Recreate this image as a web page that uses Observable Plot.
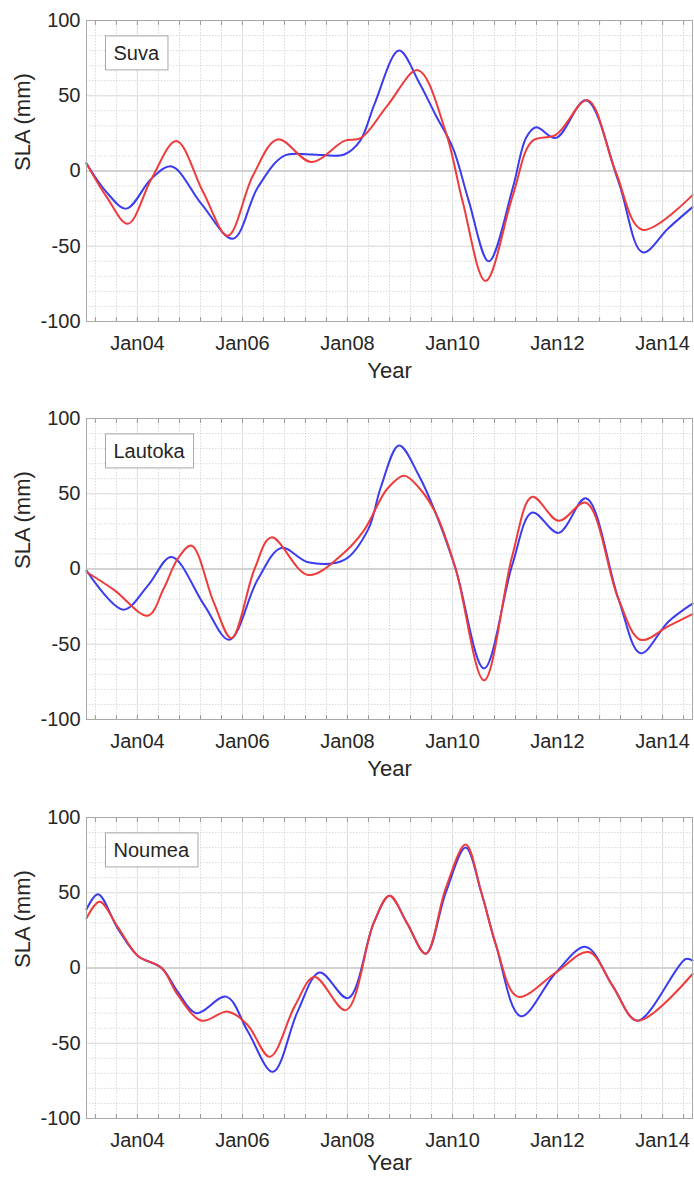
<!DOCTYPE html>
<html><head><meta charset="utf-8">
<script src="https://cdn.jsdelivr.net/npm/d3@7"></script>
<script src="https://cdn.jsdelivr.net/npm/@observablehq/plot@0.6"></script>
<style>
body{margin:0;background:#fff;}
#chart{width:694px;}
#chart svg{display:block;}
</style>
</head><body><div id="chart"></div>
<script>
// ---- data (decimal year, SLA mm) ----
const suvaBlue = [[2003.03,5],[2003.41,-14],[2003.79,-25],[2004.27,-5],[2004.65,3],[2005.22,-22],[2005.82,-45],[2006.29,-11],[2006.79,10],[2007.3,11],[2007.94,11],[2008.24,20],[2008.52,45],[2008.98,80],[2009.36,59],[2009.68,37],[2010.01,15],[2010.31,-20],[2010.69,-60],[2011.15,-11],[2011.4,22],[2011.59,29],[2011.97,22],[2012.54,47],[2013.16,-7],[2013.62,-54],[2014.11,-38],[2014.57,-24]];
const suvaRed = [[2003.03,5],[2003.41,-17],[2003.82,-35],[2004.27,-5],[2004.74,20],[2005.25,-14],[2005.72,-43],[2006.2,-3],[2006.67,21],[2007.31,6],[2007.94,20],[2008.26,22],[2008.77,44],[2009.34,67],[2009.87,26],[2010.19,-20],[2010.63,-73],[2011.15,-16],[2011.52,20],[2011.97,24],[2012.57,47],[2013.1,0],[2013.61,-39],[2014.57,-16]];
const lautokaBlue = [[2003.03,-1],[2003.73,-27],[2004.2,-11],[2004.65,8],[2005.27,-24],[2005.75,-47],[2006.29,-7],[2006.74,14],[2007.25,4.5],[2007.94,6],[2008.39,26],[2008.64,55],[2008.98,82],[2009.36,62],[2009.68,37],[2010.06,0],[2010.6,-66],[2011.14,3],[2011.52,37.5],[2012.02,24],[2012.54,47],[2013.16,-20],[2013.58,-56],[2014.11,-35],[2014.57,-23]];
const lautokaRed = [[2003.03,-2],[2003.56,-14],[2004.2,-31],[2004.5,-13],[2004.77,7],[2005.03,15.5],[2005.45,-22],[2005.79,-46],[2006.23,0],[2006.55,21],[2007.25,-4],[2007.94,11],[2008.32,26],[2008.75,53],[2009.08,62],[2009.36,54],[2009.68,37],[2010.06,0],[2010.6,-74],[2011.14,9],[2011.52,48],[2012.02,32],[2012.54,44],[2013.16,-20],[2013.58,-47],[2014.11,-38],[2014.57,-30]];
const noumeaBlue = [[2003.03,39],[2003.25,49],[2003.63,26],[2004.01,8],[2004.46,0],[2004.77,-16],[2005.12,-30],[2005.69,-19],[2006.1,-42],[2006.58,-69],[2007.05,-29],[2007.47,-3],[2008.01,-20],[2008.5,30],[2008.8,48],[2009.13,30],[2009.49,9.5],[2009.87,50],[2010.25,80],[2010.55,50],[2010.83,15],[2011.3,-32],[2011.97,-3],[2012.54,14],[2013.05,-12],[2013.52,-35],[2014.44,6],[2014.57,5]];
const noumeaRed = [[2003.03,33],[2003.28,44],[2003.63,27],[2004.01,8],[2004.46,0],[2004.77,-18],[2005.22,-35],[2005.72,-29],[2006.1,-38],[2006.52,-59],[2007.0,-25],[2007.37,-6],[2007.97,-28],[2008.5,30],[2008.8,48],[2009.13,30],[2009.49,9.5],[2009.87,53],[2010.25,82],[2010.55,50],[2010.83,15],[2011.24,-19],[2011.97,-3],[2012.59,10.6],[2013.05,-12],[2013.52,-35],[2014.57,-4]];

const stations = ["Suva", "Lautoka", "Noumea"];
const tickYears = [2004, 2006, 2008, 2010, 2012, 2014];
const yTicks = [-100, -50, 0, 50, 100];
const xExtent = [2003.03, 2014.57];
const yLabel = "SLA (mm)";
const xLabel = "Year";

// ---- helpers ----
const FONT = "'Liberation Sans', Arial, Helvetica, sans-serif";
const BLUE = "#3b3bf0", RED = "#ef3b3b";
const toDate = y => { const yr = Math.floor(y); const s = Date.UTC(yr,0,1), e = Date.UTC(yr+1,0,1); return new Date(s + (y-yr)*(e-s)); };
const majorDates = tickYears.map(y => new Date(Date.UTC(y,0,1)));
const minorDates = d3.range(-3, 30).map(k => toDate(2004 + k*0.4)).filter(d => d >= toDate(xExtent[0]) && d <= toDate(xExtent[1]));
const yMinor = d3.range(-90, 100, 10);

const panels = [
  {name: stations[0], blue: suvaBlue, red: suvaRed, height: 398, top: 20, yearDy: 49},
  {name: stations[1], blue: lautokaBlue, red: lautokaRed, height: 398, top: 20, yearDy: 49},
  {name: stations[2], blue: noumeaBlue, red: noumeaRed, height: 381, top: 21, yearDy: 44}
];

const container = document.getElementById("chart");
for (const p of panels) {
  const bottom = p.top + 301;
  const svg = Plot.plot({
    width: 694, height: p.height,
    marginLeft: 86, marginRight: 2, marginTop: p.top, marginBottom: p.height - bottom,
    style: {fontFamily: FONT, color: "#262626", background: "#fff", overflow: "visible"},
    x: {type: "utc", domain: [toDate(xExtent[0]), toDate(xExtent[1])]},
    y: {domain: [-100, 100]},
    marks: [
      Plot.gridY(yMinor, {stroke: "#c8c8c8", strokeOpacity: 1, strokeWidth: 0.7, strokeDasharray: "1.5,1.5"}),
      Plot.gridX(minorDates, {stroke: "#c8c8c8", strokeOpacity: 1, strokeWidth: 0.7, strokeDasharray: "1.5,1.5"}),
      Plot.gridY(yTicks, {stroke: "#dedede", strokeOpacity: 1}),
      Plot.gridX(majorDates, {stroke: "#dedede", strokeOpacity: 1}),
      Plot.ruleY([0], {stroke: "#bcbcbc", strokeWidth: 1.2}),
      Plot.line(p.blue, {x: d => toDate(d[0]), y: d => d[1], stroke: BLUE, strokeWidth: 2, curve: "catmull-rom"}),
      Plot.line(p.red, {x: d => toDate(d[0]), y: d => d[1], stroke: RED, strokeWidth: 2, curve: "catmull-rom"}),
      Plot.frame({stroke: "#a8a8a8"}),
      Plot.axisX({anchor: "bottom", ticks: minorDates, tickSize: -4, tickFormat: () => "", label: null, stroke: "#999"}),
      Plot.axisX({anchor: "top", ticks: minorDates, tickSize: -4, tickFormat: () => "", label: null, stroke: "#999"}),
      Plot.axisX({anchor: "bottom", ticks: majorDates, tickSize: 0, tickPadding: 14, tickFormat: d3.utcFormat("%b%y"), label: null, fontSize: 20}),
      Plot.axisY({anchor: "left", ticks: yTicks, tickSize: 0, tickPadding: 6, tickFormat: d => String(d), label: null, fontSize: 20}),
      Plot.text([p.name], {frameAnchor: "top-left", dx: 27, dy: 33, textAnchor: "start", lineAnchor: "middle", fontSize: 20, fill: "#262626"}),
      Plot.text([yLabel], {frameAnchor: "left", rotate: -90, dx: -64, fontSize: 22, fill: "#262626"}),
      Plot.text([xLabel], {frameAnchor: "bottom", dy: p.yearDy, lineAnchor: "middle", fontSize: 22, fill: "#262626"})
    ]
  });
  container.appendChild(svg);
  // legend-style box around station name
  const t = Array.from(svg.querySelectorAll("text")).find(el => el.textContent === p.name);
  if (t) {
    const sr = svg.getBoundingClientRect(), tr = t.getBoundingClientRect();
    const cy = tr.top - sr.top + tr.height / 2;
    const rect = document.createElementNS("http://www.w3.org/2000/svg", "rect");
    rect.setAttribute("x", tr.left - sr.left - 8);
    rect.setAttribute("y", cy - 17);
    rect.setAttribute("width", tr.width + 16);
    rect.setAttribute("height", 34);
    rect.setAttribute("fill", "#fff");
    rect.setAttribute("stroke", "#a8a8a8");
    rect.setAttribute("stroke-width", 1);
    let g = t; while (g.parentNode !== svg) g = g.parentNode;
    svg.insertBefore(rect, g);
  }
}
</script></body></html>
